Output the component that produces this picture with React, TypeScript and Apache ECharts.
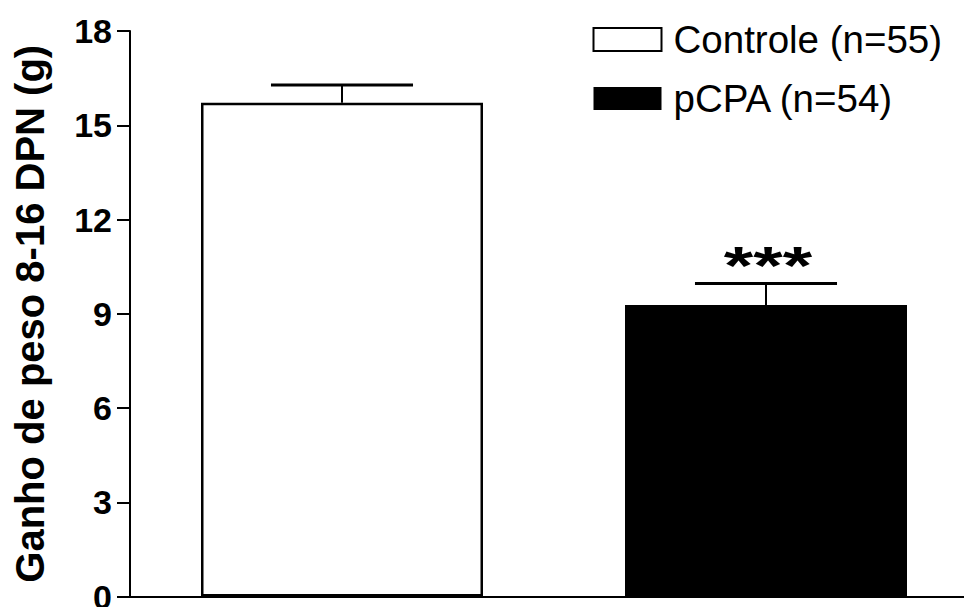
import React, { useEffect, useRef } from "react";
import * as echarts from "echarts";

const categories = ["Controle (n=55)", "pCPA (n=54)"];
const means = [15.72, 9.28];
const sems = [0.56, 0.68];
const significance = ["", "***"];
const yMin = 0;
const yMax = 18;
const yInterval = 3;
const yAxisTitle = "Ganho de peso 8-16 DPN (g)";

const FONT = "'Liberation Sans', Arial, Helvetica, sans-serif";

export default function App() {
  const ref = useRef<HTMLDivElement>(null);

  useEffect(() => {
    if (!ref.current) return;
    const chart = echarts.init(ref.current, null, { renderer: "svg" });

    const errorData = categories.map((c, i) => [i, means[i], sems[i]]);

    const option: any = {
      animation: false,
      backgroundColor: "#ffffff",
      textStyle: { fontFamily: FONT, color: "#000" },
      grid: {
        left: 130,
        right: -14,
        top: 31,
        bottom: 10.5,
        containLabel: false,
        outerBoundsMode: "none",
      },
      legend: {
        orient: "vertical",
        left: 592.5,
        top: 20,
        padding: 0,
        itemWidth: 68,
        itemHeight: 23,
        itemGap: 20,
        icon: "rect",
        data: categories,
        textStyle: {
          fontFamily: FONT,
          fontSize: 38.5,
          color: "#000",
          lineHeight: 23,
          padding: [0, 0, 0, 7],
        },
      },
      xAxis: {
        type: "category",
        data: categories,
        axisLine: { show: true, lineStyle: { color: "#000", width: 2 } },
        axisTick: { show: false },
        axisLabel: { show: false },
        splitLine: { show: false },
      },
      yAxis: {
        type: "value",
        min: yMin,
        max: yMax,
        interval: yInterval,
        name: yAxisTitle,
        nameLocation: "middle",
        nameRotate: 90,
        nameGap: 80,
        nameMoveOverlap: false,
        nameTextStyle: {
          fontFamily: FONT,
          fontSize: 40,
          fontWeight: "bold",
          color: "#000",
        },
        axisLine: { show: true, lineStyle: { color: "#000", width: 2 } },
        axisTick: { show: true, length: 13, lineStyle: { color: "#000", width: 2 } },
        axisLabel: {
          margin: 18,
          fontFamily: FONT,
          fontSize: 34,
          fontWeight: "bold",
          color: "#000",
        },
        splitLine: { show: false },
      },
      series: [
        {
          type: "bar",
          name: categories[0],
          data: [means[0], "-"],
          barWidth: 282,
          barGap: "-100%",
          itemStyle: { color: "#ffffff", borderColor: "#000", borderWidth: 2.5 },
          z: 2,
        },
        {
          type: "bar",
          name: categories[1],
          data: ["-", means[1]],
          barWidth: 282,
          barGap: "-100%",
          itemStyle: { color: "#000000", borderColor: "#000", borderWidth: 0 },
          z: 2,
        },
        {
          type: "custom",
          name: "error",
          data: errorData,
          z: 3,
          silent: true,
          renderItem: (params: any, api: any) => {
            const idx = api.value(0);
            const m = api.value(1);
            const e = api.value(2);
            const base = api.coord([idx, m]);
            const top = api.coord([idx, m + e]);
            const band = api.size([1, 0])[0];
            const half = band * 0.1675;
            const children: any[] = [
              {
                type: "line",
                shape: { x1: base[0], y1: base[1], x2: top[0], y2: top[1] },
                style: { stroke: "#000", lineWidth: 2 },
              },
              {
                type: "line",
                shape: { x1: top[0] - half, y1: top[1], x2: top[0] + half, y2: top[1] },
                style: { stroke: "#000", lineWidth: 3 },
              },
            ];
            const sig = significance[params.dataIndex];
            if (sig) {
              children.push({
                type: "text",
                x: top[0] + 2,
                y: top[1] - 18,
                scaleX: 1.4,
                style: {
                  text: sig,
                  fontFamily: FONT,
                  fontSize: 54,
                  fontWeight: "bold",
                  fill: "#000",
                  textAlign: "center",
                  textVerticalAlign: "middle",
                },
              });
            }
            return { type: "group", children };
          },
        },
      ],
    };

    chart.setOption(option);
    return () => {
      chart.dispose();
    };
  }, []);

  return (
    <div
      ref={ref}
      style={{ position: "fixed", left: 0, top: 0, width: 964, height: 607, background: "#fff" }}
    />
  );
}
